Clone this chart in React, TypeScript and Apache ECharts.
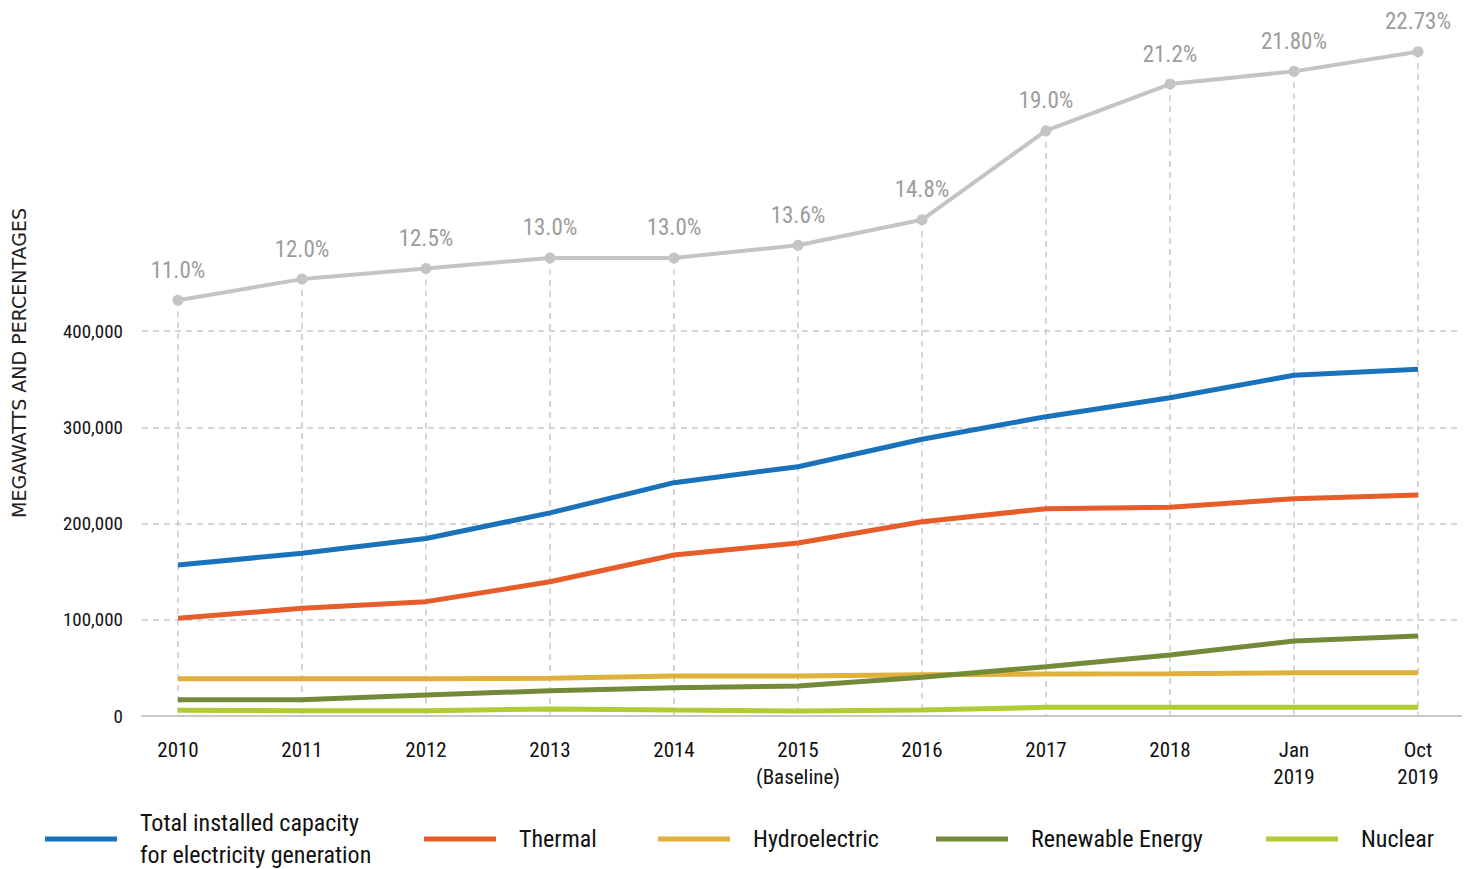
import React, { useEffect, useRef } from 'react';
import * as echarts from 'echarts';

const categories = ['2010', '2011', '2012', '2013', '2014', '2015\n(Baseline)', '2016', '2017', '2018', 'Jan\n2019', 'Oct\n2019'];
const totalCapacity = [157000, 169000, 184400, 211000, 242400, 259000, 287500, 311000, 330700, 354000, 360200];
const thermal = [101500, 111900, 118800, 139500, 167300, 179700, 201900, 215400, 216800, 225800, 229600];
const hydro = [38800, 38800, 38800, 39200, 41600, 41600, 42900, 43600, 43900, 45000, 45000];
const renewable = [16900, 16900, 21800, 26300, 29400, 31200, 40200, 51200, 63400, 77900, 83100];
const nuclear = [5900, 5500, 5500, 7300, 6200, 5200, 6200, 9000, 9000, 9000, 9000];
const cleanShare = [11.0, 12.0, 12.5, 13.0, 13.0, 13.6, 14.8, 19.0, 21.2, 21.8, 22.73];
const cleanShareLabels = ['11.0%', '12.0%', '12.5%', '13.0%', '13.0%', '13.6%', '14.8%', '19.0%', '21.2%', '21.80%', '22.73%'];
const seriesNames = [
  'Total installed capacity\nfor electricity generation',
  'Thermal',
  'Hydroelectric',
  'Renewable Energy',
  'Nuclear',
];

const FONT = '"Liberation Sans Narrow", "Roboto Condensed", "DejaVu Sans Condensed", Roboto, sans-serif';
const PCT_MIN = -8.61;
const PCT_MAX = 23.28;
const GRID_LINE = '#c9c9c9';
const CANVAS_W = 1480;

const colors = ['#1a73ba', '#e65d2a', '#e0b03d', '#738a38', '#afcd33'];
const seriesData = [totalCapacity, thermal, hydro, renewable, nuclear];
const legendLeft = [45, 424, 658, 936, 1266];
const drawOrder = [2, 3, 4, 1, 0];

function buildOption(): any {
  const lineSeries = drawOrder.map((k, n) => ({
    name: seriesNames[k],
    type: 'line',
    xAxisIndex: 1,
    yAxisIndex: 1,
    data: seriesData[k],
    symbol: 'none',
    z: 5 + n,
    lineStyle: { color: colors[k], width: 5 },
    itemStyle: { color: colors[k] },
  }));

  return {
    animation: false,
    backgroundColor: '#ffffff',
    textStyle: { fontFamily: FONT },
    grid: [
      { left: 142, right: CANVAS_W - 1461, top: 331, bottom: 153 },
      { left: 116, right: 0, top: 40, bottom: 153 },
    ],
    xAxis: [
      {
        gridIndex: 0,
        type: 'value',
        min: 0,
        max: 1,
        axisLine: { show: true, lineStyle: { color: '#c8c8c8', width: 2 } },
        axisTick: { show: false },
        axisLabel: { show: false },
        splitLine: { show: false },
      },
      {
        gridIndex: 1,
        type: 'category',
        data: categories,
        boundaryGap: true,
        axisLine: { show: false },
        axisTick: { show: false },
        splitLine: { show: false },
        axisLabel: {
          margin: 20,
          fontSize: 21,
          lineHeight: 27,
          color: '#111',
          fontFamily: FONT,
          interval: 0,
        },
      },
    ],
    yAxis: [
      {
        gridIndex: 0,
        type: 'value',
        min: 0,
        max: 400000,
        interval: 100000,
        axisLine: { show: false },
        axisTick: { show: false },
        axisLabel: {
          margin: 19,
          fontSize: 19,
          color: '#111',
          fontFamily: FONT,
          formatter: (v: number) => v.toLocaleString('en-US'),
        },
        splitLine: { show: true, lineStyle: { color: GRID_LINE, width: 1.5, type: [6, 5] } },
      },
      {
        gridIndex: 1,
        type: 'value',
        min: 0,
        max: 702338,
        show: false,
        splitLine: { show: false },
      },
      {
        gridIndex: 1,
        type: 'value',
        min: PCT_MIN,
        max: PCT_MAX,
        show: false,
        splitLine: { show: false },
      },
    ],
    legend: seriesNames.map((name, k) => ({
      data: [name],
      left: legendLeft[k],
      top: k === 0 ? 807 : 823,
      padding: 0,
      icon: 'rect',
      itemWidth: 72,
      itemHeight: 5,
      selectedMode: false,
      textStyle: {
        fontSize: 24,
        lineHeight: 32,
        color: '#111',
        fontFamily: FONT,
        padding: [0, 0, 0, 18],
      },
    })),
    graphic: [
      {
        type: 'text',
        x: 19,
        y: 363,
        rotation: Math.PI / 2,
        style: {
          text: 'MEGAWATTS AND PERCENTAGES',
          font: '19px "DejaVu Sans", Roboto, sans-serif',
          fill: '#222',
          textAlign: 'center',
          textVerticalAlign: 'middle',
        },
      },
    ],
    series: [
      {
        type: 'custom',
        xAxisIndex: 1,
        yAxisIndex: 2,
        z: 1,
        silent: true,
        data: cleanShare.map((p, i) => [i, p]),
        renderItem: (params: any, api: any) => {
          const top = api.coord([api.value(0), api.value(1)]);
          const bottom = api.coord([api.value(0), PCT_MIN]);
          return {
            type: 'line',
            shape: { x1: top[0], y1: top[1], x2: bottom[0], y2: bottom[1] },
            style: { stroke: GRID_LINE, lineWidth: 1.5, lineDash: [6, 5] },
          };
        },
      },
      ...lineSeries,
      {
        name: 'Clean share',
        type: 'line',
        xAxisIndex: 1,
        yAxisIndex: 2,
        data: cleanShare,
        symbol: 'circle',
        symbolSize: 11,
        z: 4,
        lineStyle: { color: '#c4c4c4', width: 4 },
        itemStyle: { color: '#c4c4c4' },
        label: {
          show: true,
          position: 'top',
          distance: 13,
          fontSize: 23,
          color: '#9c9c9c',
          fontFamily: FONT,
          formatter: (p: any) => cleanShareLabels[p.dataIndex],
        },
      },
    ],
  };
}

export default function App() {
  const ref = useRef<HTMLDivElement>(null);
  useEffect(() => {
    document.body.style.margin = '0';
    document.body.style.overflow = 'hidden';
    document.documentElement.style.overflow = 'hidden';
    const chart = echarts.init(ref.current!, null, { renderer: 'svg' });
    chart.setOption(buildOption());
    return () => chart.dispose();
  }, []);
  return <div ref={ref} style={{ width: CANVAS_W, height: 869 }} />;
}
